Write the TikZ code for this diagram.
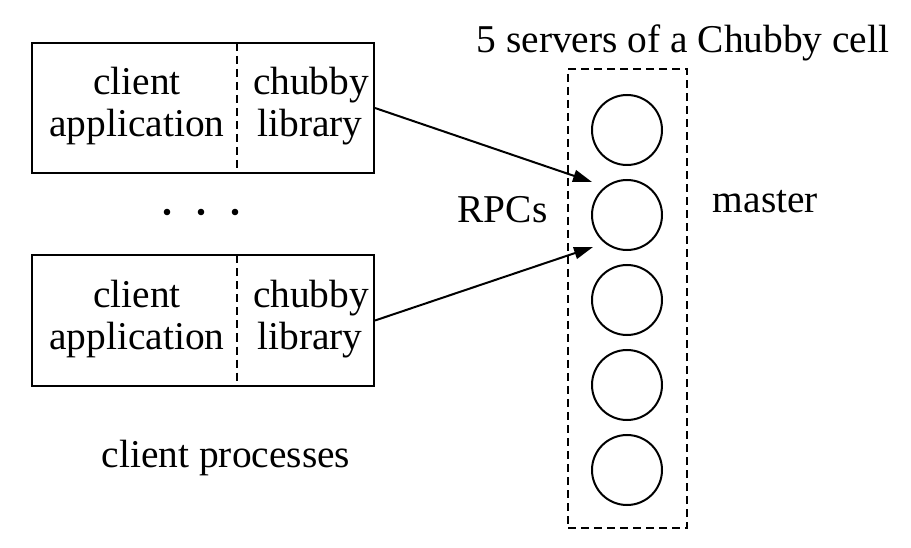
\documentclass[tikz,border=0pt]{standalone}
\usepackage{fontspec}
\setmainfont{Liberation Serif}
\usetikzlibrary{arrows.meta}
\begin{document}
\begin{tikzpicture}[x=1pt,y=-1pt, line width=2pt,
  box/.style={draw, line width=2pt, minimum width=342pt, minimum height=130pt, inner sep=0pt},
  srv/.style={draw, circle, minimum size=70pt, inner sep=0pt, line width=2pt},
  lbl/.style={anchor=base, inner sep=0pt, font=\fontsize{39.4}{42}\selectfont},
  dsh/.style={dash pattern=on 8pt off 5pt, line width=2pt},
  arr/.style={-{Triangle[length=19pt,width=12pt]}, line width=2pt}]
\useasboundingbox (0,0) rectangle (911,548);
% client boxes
\node[box] (c1) at (203,108) {};
\node[box] (c2) at (203,320.5) {};
\coordinate (d1t) at (237,43);
\coordinate (d1b) at (237,173);
\coordinate (d2t) at (237,255.5);
\coordinate (d2b) at (237,385.5);
\draw[dsh] (d1t) -- (d1b);
\draw[dsh] (d2t) -- (d2b);
\node[lbl] (c1a) at (137,95) {client};
\node[lbl] (c1b) at (137,137) {application};
\node[lbl] (c1c) at (311,95) {chubby};
\node[lbl] (c1d) at (310,137) {library};
\node[lbl] (c2a) at (137,307.5) {client};
\node[lbl] (c2b) at (137,349.5) {application};
\node[lbl] (c2c) at (311,307.5) {chubby};
\node[lbl] (c2d) at (310,349.5) {library};
% dots
\fill (167,212) circle (3.3);
\fill (201,212) circle (3.3);
\fill (235,212) circle (3.3);
% cell
\node[draw, dsh, minimum width=119pt, minimum height=459pt, inner sep=0pt] (cell) at (627.5,298.5) {};
\node[srv] (s1) at (627,130) {};
\node[srv] (s2) at (627,215) {};
\node[srv] (s3) at (627,300) {};
\node[srv] (s4) at (627,385) {};
\node[srv] (s5) at (627,470) {};
% arrows
\coordinate (t1) at (592,182);
\coordinate (t2) at (593,247);
\draw[arr] (c1.east) -- (t1);
\draw[arr] (c2.east) -- (t2);
% labels
\node[lbl] (title) at (683,53) {5 servers of a Chubby cell};
\node[lbl] (rpc) at (502.5,223) {RPCs};
\node[lbl] (master) at (765.5,213) {master};
\node[lbl] (cp) at (226,467) {client processes};
\end{tikzpicture}
\end{document}
